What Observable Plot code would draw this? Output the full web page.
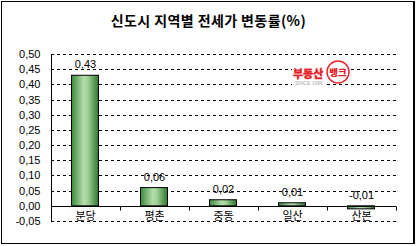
<!DOCTYPE html>
<html>
<head>
<meta charset="utf-8">
<script src="https://cdn.jsdelivr.net/npm/d3@7"></script>
<script src="https://cdn.jsdelivr.net/npm/@observablehq/plot@0.6"></script>
<style>
  html, body { margin: 0; padding: 0; background: #fff; }
  #wrap { position: relative; width: 417px; height: 246px; overflow: hidden; background: #fff; }
  #chart { position: absolute; left: 0; top: 0; }
  #title { position: absolute; left: 0; width: 417px; top: 11px; text-align: center;
    font-family: "Noto Sans CJK KR", sans-serif; font-weight: bold; font-size: 14px; letter-spacing: 0.4px; color: #000; line-height: 18px; }
  #frame { position: absolute; left: 1px; top: 1px; width: 414px; height: 243px; box-sizing: border-box;
    border: 1px solid #000; border-right-width: 2px; pointer-events: none; }
  #logo { position: absolute; left: 290px; top: 60px; }
</style>
</head>
<body>
<div id="wrap">
  <div id="chart"></div>
  <div id="title"></div>
  <svg id="logo" width="64" height="28" viewBox="0 0 64 28">
    <rect x="2" y="4" width="34" height="24" fill="#fff"/>
    <circle cx="48" cy="12" r="11.5" fill="#fff"/>
    <text x="3" y="17.5" font-family="Noto Sans CJK KR, sans-serif" font-weight="900" font-size="11" fill="#e8202a" stroke="#e8202a" stroke-width="0.3">부동산</text>
    <circle cx="48" cy="12" r="11" fill="none" stroke="#e8202a" stroke-width="1.4"/>
    <text x="48" y="15.5" text-anchor="middle" font-family="Noto Sans CJK KR, sans-serif" font-weight="900" font-size="9.5" fill="#e8202a">뱅크</text>
    <text x="5" y="25" font-family="Liberation Sans, sans-serif" font-size="5" fill="#aaa">SINCE 1996</text>
  </svg>
  <div id="frame"></div>
</div>
<script>
const titleText = "신도시 지역별 전세가 변동률(%)";
const categories = ["분당", "평촌", "중동", "일산", "산본"];
const values = [0.43, 0.06, 0.02, 0.01, -0.01];
const yTicks = [-0.05, 0, 0.05, 0.10, 0.15, 0.20, 0.25, 0.30, 0.35, 0.40, 0.45, 0.50];
const yGrid = [-0.05, 0.05, 0.10, 0.15, 0.20, 0.25, 0.30, 0.35, 0.40, 0.45, 0.50];

document.getElementById("title").textContent = titleText;

const data = categories.map((c, i) => ({cat: c, v: values[i]}));
const fmt = d => d.toFixed(2).replace(".", ",");
const font = "Liberation Sans, Noto Sans CJK KR, sans-serif";

// gradient defs
const defsMark = () => {
  const ns = "http://www.w3.org/2000/svg";
  const g = document.createElementNS(ns, "g");
  g.innerHTML = `<defs><linearGradient id="barGrad" x1="0" x2="1" y1="0" y2="0">
    <stop offset="0" stop-color="#3d8a3d"/>
    <stop offset="0.45" stop-color="#b3ddab"/>
    <stop offset="0.6" stop-color="#a2d29a"/>
    <stop offset="1" stop-color="#2e772e"/>
  </linearGradient></defs>`;
  return g;
};

// left axis line and category boundary ticks on the zero line
const axisMark = (index, scales, values, dims) => {
  const ns = "http://www.w3.org/2000/svg";
  const g = document.createElementNS(ns, "g");
  const x = scales.x, y = scales.y;
  const left = dims.marginLeft, right = dims.width - dims.marginRight;
  const top = dims.marginTop, bottom = dims.height - dims.marginBottom;
  const step = (right - left) / categories.length;
  const y0 = Math.round(y(0)) + 0.5;
  let html = `<line x1="${left + 0.5}" x2="${left + 0.5}" y1="${top}" y2="${bottom}" stroke="#000"/>`;
  categories.forEach((c, i) => {
    const cx = x(c) + (x.bandwidth ? x.bandwidth() / 2 : 0);
    const bx = Math.round(cx + step / 2) + 0.5;
    html += `<line x1="${bx}" x2="${bx}" y1="${y0}" y2="${y0 + 4}" stroke="#000"/>`;
  });
  g.innerHTML = html;
  return g;
};

const chart = Plot.plot({
  width: 417,
  height: 246,
  marginTop: 54,
  marginBottom: 25,
  marginLeft: 51,
  marginRight: 21,
  style: {fontFamily: font, fontSize: "11px", background: "transparent", color: "#000", overflow: "visible"},
  x: {domain: categories, paddingInner: 0.594, paddingOuter: 0.297, axis: null},
  y: {domain: [-0.05, 0.5], ticks: yTicks, tickFormat: fmt, tickSize: 0, tickPadding: 11, label: null},
  marks: [
    defsMark,
    Plot.ruleY(yGrid, {stroke: "#000", strokeDasharray: "3,3", strokeWidth: 1, shapeRendering: "crispEdges"}),
    Plot.barY(data, {x: "cat", y: "v", fill: "url(#barGrad)", stroke: "#000", strokeWidth: 1, insetLeft: 0.5, insetRight: 0.5}),
    Plot.ruleY([0], {stroke: "#000", strokeWidth: 1, shapeRendering: "crispEdges"}),
    axisMark,
    Plot.text(data, {x: "cat", y: d => Math.max(d.v, 0), text: d => fmt(d.v), dy: -11, fill: "#000", fontSize: 11}),
    Plot.text(data, {x: "cat", y: 0, text: "cat", dy: 10, fill: "#000", fontSize: 11, fontFamily: "Noto Sans CJK KR, sans-serif"})
  ]
});
document.getElementById("chart").appendChild(chart);
</script>
</body>
</html>
